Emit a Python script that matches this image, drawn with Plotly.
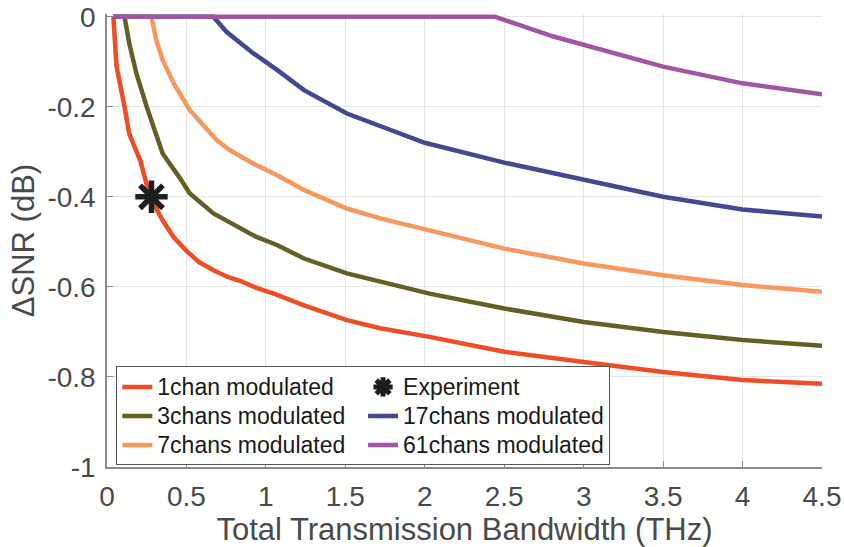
import plotly.graph_objects as go

# Delta-SNR versus total transmission bandwidth for different numbers of modulated channels
x_1chan = [0.04, 0.06, 0.11, 0.14, 0.21, 0.27, 0.35, 0.42, 0.5, 0.58, 0.67, 0.76, 0.84, 0.94,
           1.05, 1.24, 1.51, 1.72, 2.03, 2.5, 3.0, 3.5, 4.0, 4.5]
y_1chan = [0, -0.11, -0.2, -0.26, -0.32, -0.4, -0.452, -0.49, -0.52, -0.545, -0.563, -0.578,
           -0.587, -0.602, -0.615, -0.641, -0.674, -0.692, -0.711, -0.744, -0.767, -0.789,
           -0.807, -0.815]

x_3chans = [0.04, 0.11, 0.14, 0.185, 0.25, 0.35, 0.46, 0.52, 0.67, 0.84, 0.94, 1.07, 1.24,
            1.51, 1.72, 2.03, 2.5, 3.0, 3.5, 4.0, 4.5]
y_3chans = [0, 0, -0.059, -0.126, -0.2, -0.304, -0.359, -0.392, -0.437, -0.47, -0.489, -0.507,
            -0.537, -0.57, -0.589, -0.615, -0.648, -0.678, -0.7, -0.718, -0.731]

x_7chans = [0.04, 0.28, 0.31, 0.35, 0.42, 0.52, 0.69, 0.77, 0.92, 1.07, 1.24, 1.51, 1.72,
            2.03, 2.5, 3.0, 3.5, 4.0, 4.5]
y_7chans = [0, 0, -0.052, -0.096, -0.148, -0.207, -0.274, -0.296, -0.326, -0.352, -0.385,
            -0.426, -0.448, -0.474, -0.515, -0.548, -0.574, -0.596, -0.611]

x_17chans = [0.04, 0.67, 0.75, 0.92, 1.07, 1.24, 1.51, 1.70, 2.0, 2.5, 3.0, 3.5, 4.0, 4.5]
y_17chans = [0, 0, -0.033, -0.081, -0.118, -0.163, -0.215, -0.24, -0.28, -0.324, -0.363,
             -0.4, -0.428, -0.444]

x_61chans = [0.04, 2.44, 2.81, 3.0, 3.23, 3.5, 4.0, 4.5]
y_61chans = [0, 0, -0.044, -0.063, -0.085, -0.111, -0.148, -0.172]

x_experiment = [0.28]
y_experiment = [-0.4]

x_ticks = [0, 0.5, 1, 1.5, 2, 2.5, 3, 3.5, 4, 4.5]
x_ticktext = ["0", "0.5", "1", "1.5", "2", "2.5", "3", "3.5", "4", "4.5"]
y_ticks = [0, -0.2, -0.4, -0.6, -0.8, -1]
y_ticktext = ["0", "-0.2", "-0.4", "-0.6", "-0.8", "-1"]

series = [
    ("1chan modulated", x_1chan, y_1chan, "#F04C26", 1),
    ("3chans modulated", x_3chans, y_3chans, "#635F25", 3),
    ("7chans modulated", x_7chans, y_7chans, "#F9985C", 5),
    ("17chans modulated", x_17chans, y_17chans, "#444891", 4),
    ("61chans modulated", x_61chans, y_61chans, "#A056A4", 6),
]

FONT = "Liberation Sans, Arial, sans-serif"


def legend_label(text):
    # legend rows are spaced by the legend font size; the label itself renders a bit larger
    return f'<span style="font-size:23px">{text}</span>'


fig = go.Figure()
for name, xs, ys, color, rank in series:
    fig.add_trace(go.Scatter(
        x=xs, y=ys, mode="lines", name=legend_label(name), legendrank=rank,
        line=dict(color=color, width=4.5),
    ))

fig.add_trace(go.Scatter(
    x=x_experiment, y=y_experiment, mode="markers", name=legend_label("Experiment"),
    legendrank=2,
    marker=dict(symbol="asterisk-open", size=27, color="#1E1E1E",
                line=dict(color="#1E1E1E", width=5.5)),
    cliponaxis=False,
))

axis_gray = "#8A8A8A"
tick_font = dict(family=FONT, size=28, color="#4A4A4A")
title_font = dict(family=FONT, size=31, color="#4A4A4A")

fig.update_layout(
    width=844, height=547,
    margin=dict(l=107, r=22, t=14, b=80),
    paper_bgcolor="white", plot_bgcolor="white",
    showlegend=True,
    legend=dict(
        orientation="h",
        x=0.013, y=0.222, xanchor="left", yanchor="top",
        bgcolor="white", bordercolor="#555555", borderwidth=1,
        font=dict(family=FONT, size=20, color="#1A1A1A"),
        itemwidth=30, tracegroupgap=0,
    ),
    xaxis=dict(
        range=[0, 4.5], tickvals=x_ticks, ticktext=x_ticktext, automargin=False,
        showgrid=True, gridcolor="#E6E6E6", gridwidth=1, zeroline=False,
        showline=True, linecolor=axis_gray, linewidth=1.5,
        ticks="inside", ticklen=6, tickcolor=axis_gray, tickwidth=1.2,
        tickfont=tick_font, ticklabelstandoff=4,
        title=dict(text="Total Transmission Bandwidth (THz)", standoff=8, font=title_font),
    ),
    yaxis=dict(
        range=[-1, 0.006], tickvals=y_ticks, ticktext=y_ticktext, automargin=False,
        showgrid=True, gridcolor="#E6E6E6", gridwidth=1, zeroline=False,
        showline=True, linecolor=axis_gray, linewidth=1.5,
        ticks="inside", ticklen=6, tickcolor=axis_gray, tickwidth=1.2,
        tickfont=tick_font, ticklabelstandoff=4,
        title=dict(text="ΔSNR (dB)", standoff=4, font=title_font),
    ),
)

fig.write_html("out.html")
